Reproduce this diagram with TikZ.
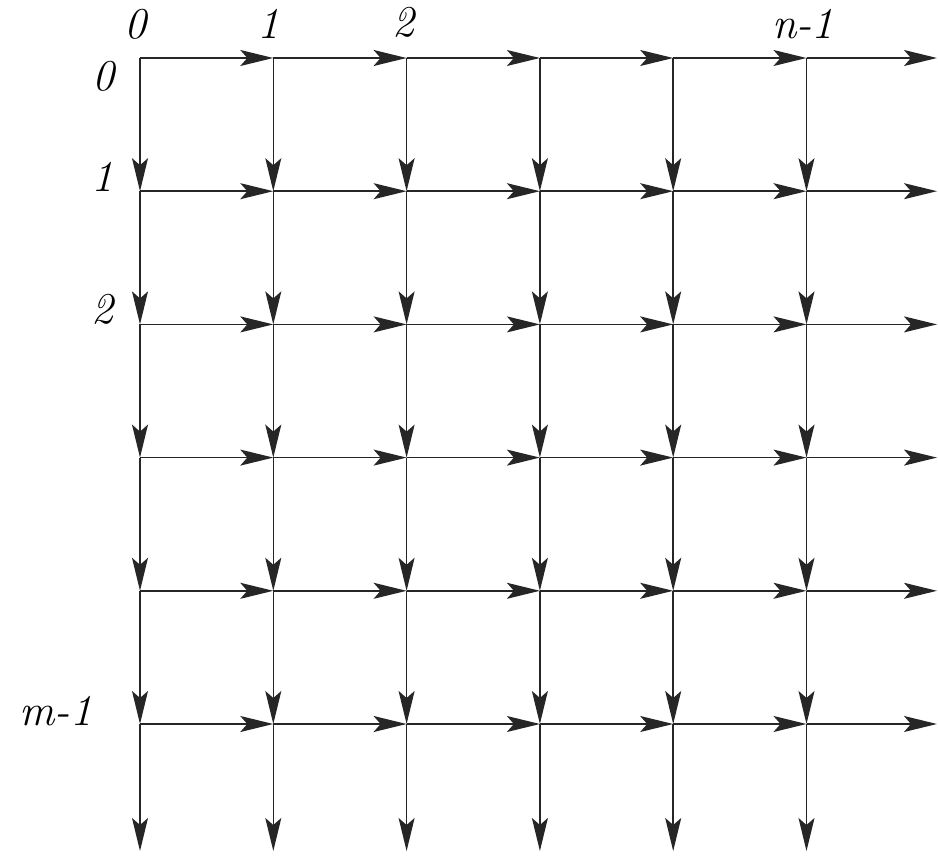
\documentclass[tikz,border=0pt]{standalone}
\usepackage{fontspec}
\usetikzlibrary{arrows.meta}
\tikzset{
  flow/.style={-{Stealth[length=33pt,width=16pt,inset=7pt]}, line width=1.5pt, draw=black!85, fill=black},
  idx/.style={font=\rmfamily\fontsize{44}{50}\selectfont\itshape, inner sep=0pt}
}

\begin{document}
\begin{tikzpicture}[x=1pt, y=-1pt]
\useasboundingbox (0,0) rectangle (938,856);
% grid points, index 6 is the free end
\foreach \i in {0,...,6} \foreach \j in {0,...,6} {
  \pgfmathsetmacro{\px}{\i<6 ? 140+133.3*\i : 937}
  \pgfmathsetmacro{\py}{\j<6 ? 58+133.2*\j : 851}
  \coordinate (p\i\j) at (\px,\py);
}
\foreach \i in {0,...,5} \foreach \j in {0,...,5} {
  \pgfmathtruncatemacro{\ni}{\i+1}
  \pgfmathtruncatemacro{\nj}{\j+1}
  \draw[flow] (p\i\j) -- (p\ni\j);
  \draw[flow] (p\i\j) -- (p\i\nj);
}
% column labels
\node[idx] (c0) at (135,24) {0};
\node[idx] (c1) at (268,24) {1};
\node[idx] (c2) at (403,22) {2};
\node[idx] (cn) at (803,24) {n-1};
% row labels
\node[idx] (r0) at (103,76) {0};
\node[idx] (r1) at (102,177) {1};
\node[idx] (r2) at (102,309) {2};
\node[idx] (rm) at (56,711) {m-1};
\end{tikzpicture}
\end{document}
